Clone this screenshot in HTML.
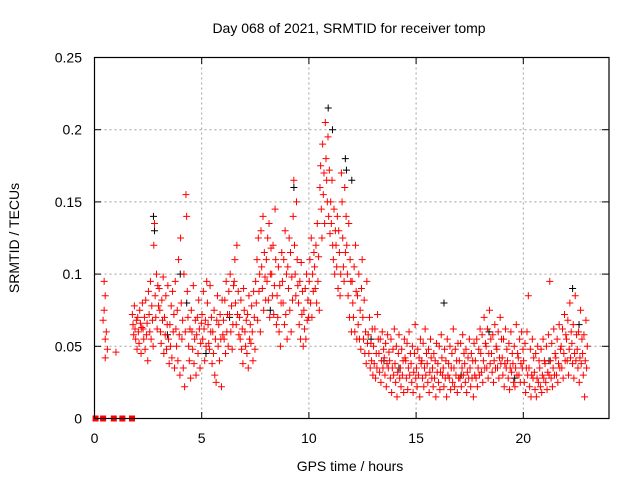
<!DOCTYPE html>
<html><head><meta charset="utf-8"><style>
body{margin:0;background:#fff}
svg{display:block;font-family:"Liberation Sans",sans-serif}
</style></head><body>
<svg id="chart" width="640" height="480" viewBox="0 0 640 480">
<rect width="640" height="480" fill="#fff"/>
<text x="349" y="33" font-size="14" text-anchor="middle">Day 068 of 2021, SRMTID for receiver tomp</text>
<g id="grid"></g>
<g id="ticks"></g>
<g id="marks"></g>
<rect x="94.5" y="57.5" width="514.5" height="361" fill="none" stroke="#000" stroke-width="1.2"/>
<text transform="translate(19,238) rotate(-90)" font-size="14" text-anchor="middle">SRMTID / TECUs</text>
<text x="350" y="471" font-size="14" text-anchor="middle">GPS time / hours</text>
</svg>
<script>
const xTicks=[0,5,10,15,20];
const yTicks=[0,0.05,0.1,0.15,0.2,0.25];
const yTickLabels=["0","0.05","0.1","0.15","0.2","0.25"];
const binStart=1.75;
const binWidth=0.25;
const redBins=[
[72,65,58,78,62,55,68,48],[70,60,52,75,66,45,63,80],[62,55,70,48,82,58,66,40],[88,72,60,95,55,78,68,50],
[120,135,85,70,100,62,92,78],[90,75,60,52,82,68,98,45],[70,58,85,48,65,92,55,38],[65,50,78,42,88,60,72,35],
[95,62,50,75,40,110,58,30],[125,80,55,68,35,100,22,60],[155,140,88,70,50,40,62,28],[75,60,48,92,38,55,68,30],
[58,70,45,82,62,35,52,66],[72,55,88,62,40,68,50,95],[80,65,52,48,92,60,70,38],[60,45,75,30,55,25,68,85],
[50,65,40,72,55,22,82,58],[68,55,82,45,95,60,72,50],[88,72,100,60,78,48,65,92],[95,110,80,65,120,72,88,58],
[70,55,82,48,62,38,90,75],[60,50,68,45,72,35,85,55],[65,52,78,60,40,88,70,48],[95,80,110,68,125,88,100,60],
[130,105,90,140,75,115,98,82],[110,95,125,82,135,70,100,118],[100,85,120,72,92,145,110,65],[85,70,105,60,92,50,80,115],
[95,80,110,65,130,72,100,55],[105,90,125,75,115,60,98,82],[140,165,120,100,85,150,110,92],[80,65,95,55,108,72,88,50],
[75,62,90,55,100,68,82,70],[95,110,80,125,70,100,88,115],[105,90,120,80,135,95,112,75],[160,175,145,125,190,155,170,135],
[205,180,165,150,195,140,172,128],[150,135,165,120,110,145,100,130],[120,105,140,90,130,115,85,100],[170,150,125,105,95,160,115,140],
[120,100,85,135,70,110,95,60],[95,80,70,105,60,120,88,55],[85,65,100,55,75,48,90,110],[70,55,82,45,60,38,95,52],
[58,45,70,35,52,40,62,30],[50,38,62,28,45,35,72,55],[45,32,55,25,40,60,35,48],[42,30,52,22,38,58,35,46],
[40,28,55,18,35,48,30,62],[38,25,50,15,32,45,58,28],[35,22,48,30,40,18,55,42],[40,28,52,20,35,60,30,45],
[38,25,50,18,32,45,65,28],[35,22,48,30,42,15,55,38],[40,28,52,22,35,62,30,45],[38,25,48,18,32,55,42,28],
[35,22,45,28,40,15,52,32],[38,25,50,20,32,58,42,30],[35,22,48,28,40,15,55,30],[38,28,50,20,35,45,25,62],
[35,22,48,30,40,18,52,28],[40,28,52,22,35,58,30,45],[38,25,48,18,32,42,28,55],[35,22,45,28,40,15,52,30],
[40,28,55,22,35,48,30,62],[45,32,58,25,40,70,35,52],[50,35,62,28,45,75,38,55],[45,32,58,25,40,65,35,50],
[48,35,60,28,42,70,38,55],[42,30,55,22,38,62,35,48],[40,28,52,20,35,60,32,45],[38,25,50,22,35,65,30,45],
[42,30,55,25,38,60,35,48],[40,25,52,18,35,60,30,85],[35,22,48,15,30,55,28,42],[32,20,45,15,28,50,25,40],
[35,22,48,18,30,55,28,40],[38,25,50,20,32,58,30,95],[40,28,52,22,35,62,30,45],[42,30,55,25,38,65,35,48],
[50,35,62,28,45,72,40,58],[55,40,68,30,48,80,42,60],[52,38,65,28,45,85,40,58],[48,35,60,25,42,75,38,55],
[45,30,58,15,40,68,35,50]];
const earlyX=[0.45,0.5,0.45,0.55,0.5,0.6,0.5,0.4,1.0];
const earlyY=[95,85,75,60,55,48,42,68,46];
const zeroX=[0.05,0.4,0.9,1.3,1.75];
const blackX=[2.75,2.8,4.0,4.3,8.2,9.3,10.9,11.1,11.7,11.75,12.0,12.9,13.5,14.2,16.3,17.1,18.4,19.6,21.2,22.3,22.6,6.3,5.2,3.4];
const blackY=[140,130,100,80,75,160,215,200,180,172,165,55,40,35,80,30,60,28,40,90,65,70,45,58];

const NS="http://www.w3.org/2000/svg";
const X0=94.5,XS=21.44,Y0=418.5,YS=1444;
const sx=h=>X0+h*XS, sy=v=>Y0-v*YS;
const grid=document.getElementById('grid'),ticks=document.getElementById('ticks'),marks=document.getElementById('marks');
function line(p,x1,y1,x2,y2,st,dash){const l=document.createElementNS(NS,'line');l.setAttribute('x1',x1);l.setAttribute('y1',y1);l.setAttribute('x2',x2);l.setAttribute('y2',y2);l.setAttribute('stroke',st);if(dash)l.setAttribute('stroke-dasharray',dash);p.appendChild(l);return l;}
xTicks.forEach(t=>{const x=sx(t);
 if(t>0){const g=line(grid,x,57.5,x,418.5,'#a0a0a0','2,3');
 
 }
 line(ticks,x,418.5,x,412,'#000');line(ticks,x,57.5,x,64,'#000');
 const tx=document.createElementNS(NS,'text');tx.setAttribute('x',x);tx.setAttribute('y',443);tx.setAttribute('font-size','14');tx.setAttribute('text-anchor','middle');tx.textContent=t;
 
 
 ticks.appendChild(tx);});
yTicks.forEach((t,i)=>{const y=sy(t);
 if(t>0&&t<0.25){const g=line(grid,94.5,y,609,y,'#a0a0a0','2,3');
 
 }
 line(ticks,94.5,y,101,y,'#000');line(ticks,609,y,602,y,'#000');
 const tx=document.createElementNS(NS,'text');tx.setAttribute('x',82);tx.setAttribute('y',y+5);tx.setAttribute('font-size','14');tx.setAttribute('text-anchor','end');tx.textContent=yTickLabels[i];
 
 
 ticks.appendChild(tx);});
function plus(h,v,col){const x=sx(h),y=sy(v);const p=document.createElementNS(NS,'path');
 p.setAttribute('d',`M${x-3.5},${y}H${x+3.5}M${x},${y-3.5}V${y+3.5}`);p.setAttribute('stroke',col);p.setAttribute('fill','none');
 
 
 marks.appendChild(p);}
blackX.forEach((h,i)=>plus(h,blackY[i]/1000,'#000'));
redBins.forEach((bin,b)=>bin.forEach((v,i)=>plus(binStart+b*binWidth+(i+0.5)*binWidth/bin.length,v/1000,'#f00')));
earlyX.forEach((h,i)=>plus(h,earlyY[i]/1000,'#f00'));
zeroX.forEach(h=>{const r=document.createElementNS(NS,'rect');r.setAttribute('x',sx(h)-3);r.setAttribute('y',sy(0)-3);r.setAttribute('width',6);r.setAttribute('height',6);r.setAttribute('fill','#f00');
 
 
 marks.appendChild(r);});
</script>
</body></html>
